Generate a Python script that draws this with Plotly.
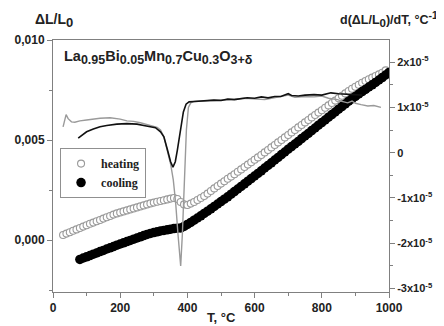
import plotly.graph_objects as go

# ---------------- data ----------------
heat_T = list(range(30, 1000, 10))
heat_dL = [0.00025, 0.00032, 0.00039, 0.00046, 0.00053, 0.0006, 0.00067, 0.00074, 0.00081, 0.00087,
           0.00094, 0.001, 0.00107, 0.00114, 0.0012, 0.00127, 0.00133, 0.00138, 0.00143, 0.00148,
           0.00153, 0.00158, 0.00163, 0.00168, 0.00173, 0.00178, 0.00183, 0.00187, 0.00191, 0.00195,
           0.00199, 0.00203, 0.00207, 0.0021, 0.00205, 0.0019, 0.00178, 0.00175, 0.00182, 0.0019,
           0.002, 0.0021, 0.0022, 0.00232, 0.00245, 0.00258, 0.0027, 0.00282, 0.00294, 0.00306,
           0.00317, 0.00329, 0.00341, 0.00353, 0.00365, 0.00377, 0.00389, 0.00401, 0.00413, 0.00425,
           0.00438, 0.0045, 0.00463, 0.00475, 0.00488, 0.005, 0.00513, 0.00525, 0.00538, 0.0055,
           0.00563, 0.00575, 0.00588, 0.006, 0.00613, 0.00625, 0.00637, 0.00649, 0.00661, 0.00673,
           0.00685, 0.00697, 0.00709, 0.00721, 0.00733, 0.00745, 0.00756, 0.00766, 0.00776, 0.00786,
           0.00795, 0.00804, 0.00812, 0.0082, 0.00828, 0.00836, 0.00848]

cool_T = list(range(80, 1001, 10))
cool_dL = [-0.00097, -0.0009, -0.00084, -0.00078, -0.00071, -0.00065, -0.00058, -0.00052, -0.00045, -0.00039,
           -0.00033, -0.00026, -0.0002, -0.00014, -0.00008, -0.00002, 0.00004, 0.0001, 0.00016, 0.00022,
           0.00028, 0.00033, 0.00037, 0.00041, 0.00045, 0.00048, 0.00051, 0.00054, 0.00057, 0.00059,
           0.0006, 0.00068, 0.00078, 0.00088, 0.00099, 0.0011, 0.00121, 0.00133, 0.00144, 0.00156,
           0.00168, 0.0018, 0.00192, 0.00204, 0.00216, 0.00229, 0.00242, 0.00255, 0.00268, 0.00281,
           0.00294, 0.00307, 0.0032, 0.00333, 0.00346, 0.0036, 0.00373, 0.00386, 0.004, 0.00413,
           0.00427, 0.0044, 0.00454, 0.00467, 0.0048, 0.00493, 0.00507, 0.0052, 0.00533, 0.00547,
           0.0056, 0.00574, 0.00587, 0.006, 0.00614, 0.00627, 0.0064, 0.00654, 0.00667, 0.0068,
           0.00694, 0.00706, 0.00718, 0.0073, 0.00742, 0.00753, 0.00765, 0.00776, 0.00788, 0.008,
           0.00812, 0.00825, 0.00838]

dheat_T = [30, 35, 39, 45, 55, 65, 80, 100, 120, 140, 170, 200, 220, 240, 260, 290, 310, 320, 330, 340,
           350, 358, 365, 372, 380, 385, 391, 397, 403, 410, 420, 450, 480, 510, 540, 570, 600, 630, 650,
           680, 700, 720, 750, 777, 800, 820, 847, 860, 877, 890, 900, 917, 937, 955, 976]
dheat_v = [0.57e-5, 0.75e-5, 0.84e-5, 0.75e-5, 0.68e-5, 0.67e-5, 0.70e-5, 0.72e-5, 0.74e-5, 0.76e-5,
           0.77e-5, 0.74e-5, 0.70e-5, 0.69e-5, 0.66e-5, 0.61e-5, 0.56e-5, 0.50e-5, 0.35e-5, 0.05e-5,
           -0.25e-5, -0.6e-5, -1.1e-5, -1.8e-5, -2.5e-5, -1.8e-5, -0.6e-5, 0.5e-5, 1.0e-5, 1.1e-5,
           1.13e-5, 1.14e-5, 1.15e-5, 1.16e-5, 1.18e-5, 1.2e-5, 1.19e-5, 1.17e-5, 1.2e-5,
           1.24e-5, 1.27e-5, 1.22e-5, 1.24e-5, 1.23e-5, 1.25e-5, 1.2e-5, 1.17e-5, 1.13e-5, 1.1e-5,
           1.14e-5, 1.09e-5, 1.06e-5, 1.03e-5, 1.04e-5, 1.0e-5]

dcool_T = [75, 85, 100, 120, 140, 160, 190, 220, 250, 270, 290, 305, 320, 330, 340, 350, 357, 364, 370,
           378, 388, 396, 405, 420, 450, 479, 500, 520, 540, 560, 578, 600, 620, 640, 660, 678, 700, 710,
           730, 750, 777, 800, 827, 850, 880, 907, 920]
dcool_v = [0.32e-5, 0.38e-5, 0.46e-5, 0.52e-5, 0.57e-5, 0.60e-5, 0.63e-5, 0.64e-5, 0.63e-5, 0.60e-5,
           0.57e-5, 0.55e-5, 0.46e-5, 0.35e-5, 0.08e-5, -0.2e-5, -0.32e-5, -0.2e-5, 0.05e-5,
           0.4e-5, 0.9e-5, 1.07e-5, 1.12e-5, 1.13e-5, 1.14e-5, 1.16e-5, 1.15e-5, 1.18e-5, 1.17e-5, 1.2e-5,
           1.21e-5, 1.2e-5, 1.23e-5, 1.21e-5, 1.24e-5, 1.24e-5, 1.3e-5, 1.26e-5,
           1.25e-5, 1.27e-5, 1.28e-5, 1.27e-5, 1.32e-5, 1.3e-5, 1.29e-5, 1.28e-5, 1.27e-5]

left_tickvals = [0.0, 0.005, 0.010]
left_ticktext = ["0,000", "0,005", "0,010"]
right_tickvals = [-3e-5, -2e-5, -1e-5, 0, 1e-5, 2e-5]
right_ticktext = ["-3x10<sup>-5</sup>", "-2x10<sup>-5</sup>", "-1x10<sup>-5</sup>", "0",
                  "1x10<sup>-5</sup>", "2x10<sup>-5</sup>"]
x_tickvals = [0, 200, 400, 600, 800, 1000]

# ---------------- figure ----------------
AX = "#808080"
TXT = "#222222"
FONT = "Liberation Sans"


def sub(t, px):
    return f'<sub><span style="font-size:{px}px">{t}</span></sub>'


def sup(t, px):
    return f'<sup><span style="font-size:{px}px">{t}</span></sup>'


fig = go.Figure()
fig.add_trace(go.Scatter(
    x=heat_T, y=heat_dL, mode="markers", name="heating",
    marker=dict(symbol="circle", size=7, color="white", line=dict(color="#9a9a9a", width=1.1)),
))
fig.add_trace(go.Scatter(
    x=cool_T, y=cool_dL, mode="markers", name="cooling",
    marker=dict(symbol="circle", size=9.5, color="#000000", line=dict(width=0)),
))
fig.add_trace(go.Scatter(
    x=dheat_T, y=dheat_v, mode="lines", yaxis="y2", showlegend=False,
    line=dict(color="#9a9a9a", width=1.4),
))
fig.add_trace(go.Scatter(
    x=dcool_T, y=dcool_v, mode="lines", yaxis="y2", showlegend=False,
    line=dict(color="#111111", width=1.6),
))

tickfont = dict(family=FONT, size=12, color=TXT, weight="bold")

formula = ("La" + sub("0.95", 12.5) + "Bi" + sub("0.05", 12.5) + "Mn" + sub("0.7", 12.5)
           + "Cu" + sub("0.3", 12.5) + "O" + sub("3+δ", 12.5))

fig.update_layout(
    width=436, height=318,
    margin=dict(l=45, r=55, t=32, b=34, autoexpand=False),
    paper_bgcolor="white", plot_bgcolor="white",
    showlegend=True,
    legend=dict(
        x=0.021, y=0.571, xanchor="left", yanchor="top",
        bgcolor="white", bordercolor="#909090", borderwidth=1,
        font=dict(family="Liberation Serif", size=12, color=TXT, weight="bold"),
        tracegroupgap=0, itemsizing="trace",
    ),
    xaxis=dict(
        range=[0, 1000], showgrid=False, zeroline=False, automargin=False,
        showline=True, linecolor=AX, linewidth=1, mirror=True,
        tickmode="array", tickvals=x_tickvals,
        ticks="outside", ticklen=5, tickcolor=AX, tickfont=tickfont,
        minor=dict(tickmode="linear", tick0=0, dtick=100, ticks="outside", ticklen=3, tickcolor=AX),
    ),
    yaxis=dict(
        range=[-0.0026, 0.010], showgrid=False, zeroline=False, automargin=False,
        showline=True, linecolor=AX, linewidth=1,
        tickmode="array", tickvals=left_tickvals, ticktext=left_ticktext,
        ticks="outside", ticklen=5, tickcolor=AX, tickfont=tickfont,
        minor=dict(tickmode="linear", tick0=0, dtick=0.0025, ticks="outside", ticklen=3, tickcolor=AX),
    ),
    yaxis2=dict(
        range=[-3.075e-5, 2.486e-5], overlaying="y", side="right",
        showgrid=False, zeroline=False, automargin=False,
        showline=True, linecolor=AX, linewidth=1,
        tickmode="array", tickvals=right_tickvals, ticktext=right_ticktext,
        ticks="outside", ticklen=5, tickcolor=AX,
        tickfont=dict(family=FONT, size=11, color=TXT, weight="bold"),
        minor=dict(tickmode="linear", tick0=0, dtick=0.5e-5, ticks="outside", ticklen=3, tickcolor=AX),
    ),
    annotations=[
        dict(text="ΔL/L" + sub("0", 13), xref="paper", yref="paper", x=-0.06, y=1.03,
             xanchor="left", yanchor="bottom", showarrow=False,
             font=dict(family=FONT, size=14, color=TXT, weight="bold")),
        dict(text="d(ΔL/L" + sub("0", 11.5) + ")/dT, °C" + sup("-1", 10.5), xref="paper", yref="paper",
             x=1.152, y=1.035, xanchor="right", yanchor="bottom", showarrow=False,
             font=dict(family=FONT, size=12.5, color=TXT, weight="bold")),
        dict(text="T, °C", xref="paper", yref="paper", x=0.5, y=-0.103,
             xanchor="center", yanchor="middle", showarrow=False,
             font=dict(family=FONT, size=13, color=TXT, weight="bold")),
        dict(text=formula,
             xref="paper", yref="paper", x=0.028, y=0.975, xanchor="left", yanchor="top",
             showarrow=False, font=dict(family=FONT, size=14.5, color=TXT, weight="bold")),
    ],
)

fig.write_html("out.html")
